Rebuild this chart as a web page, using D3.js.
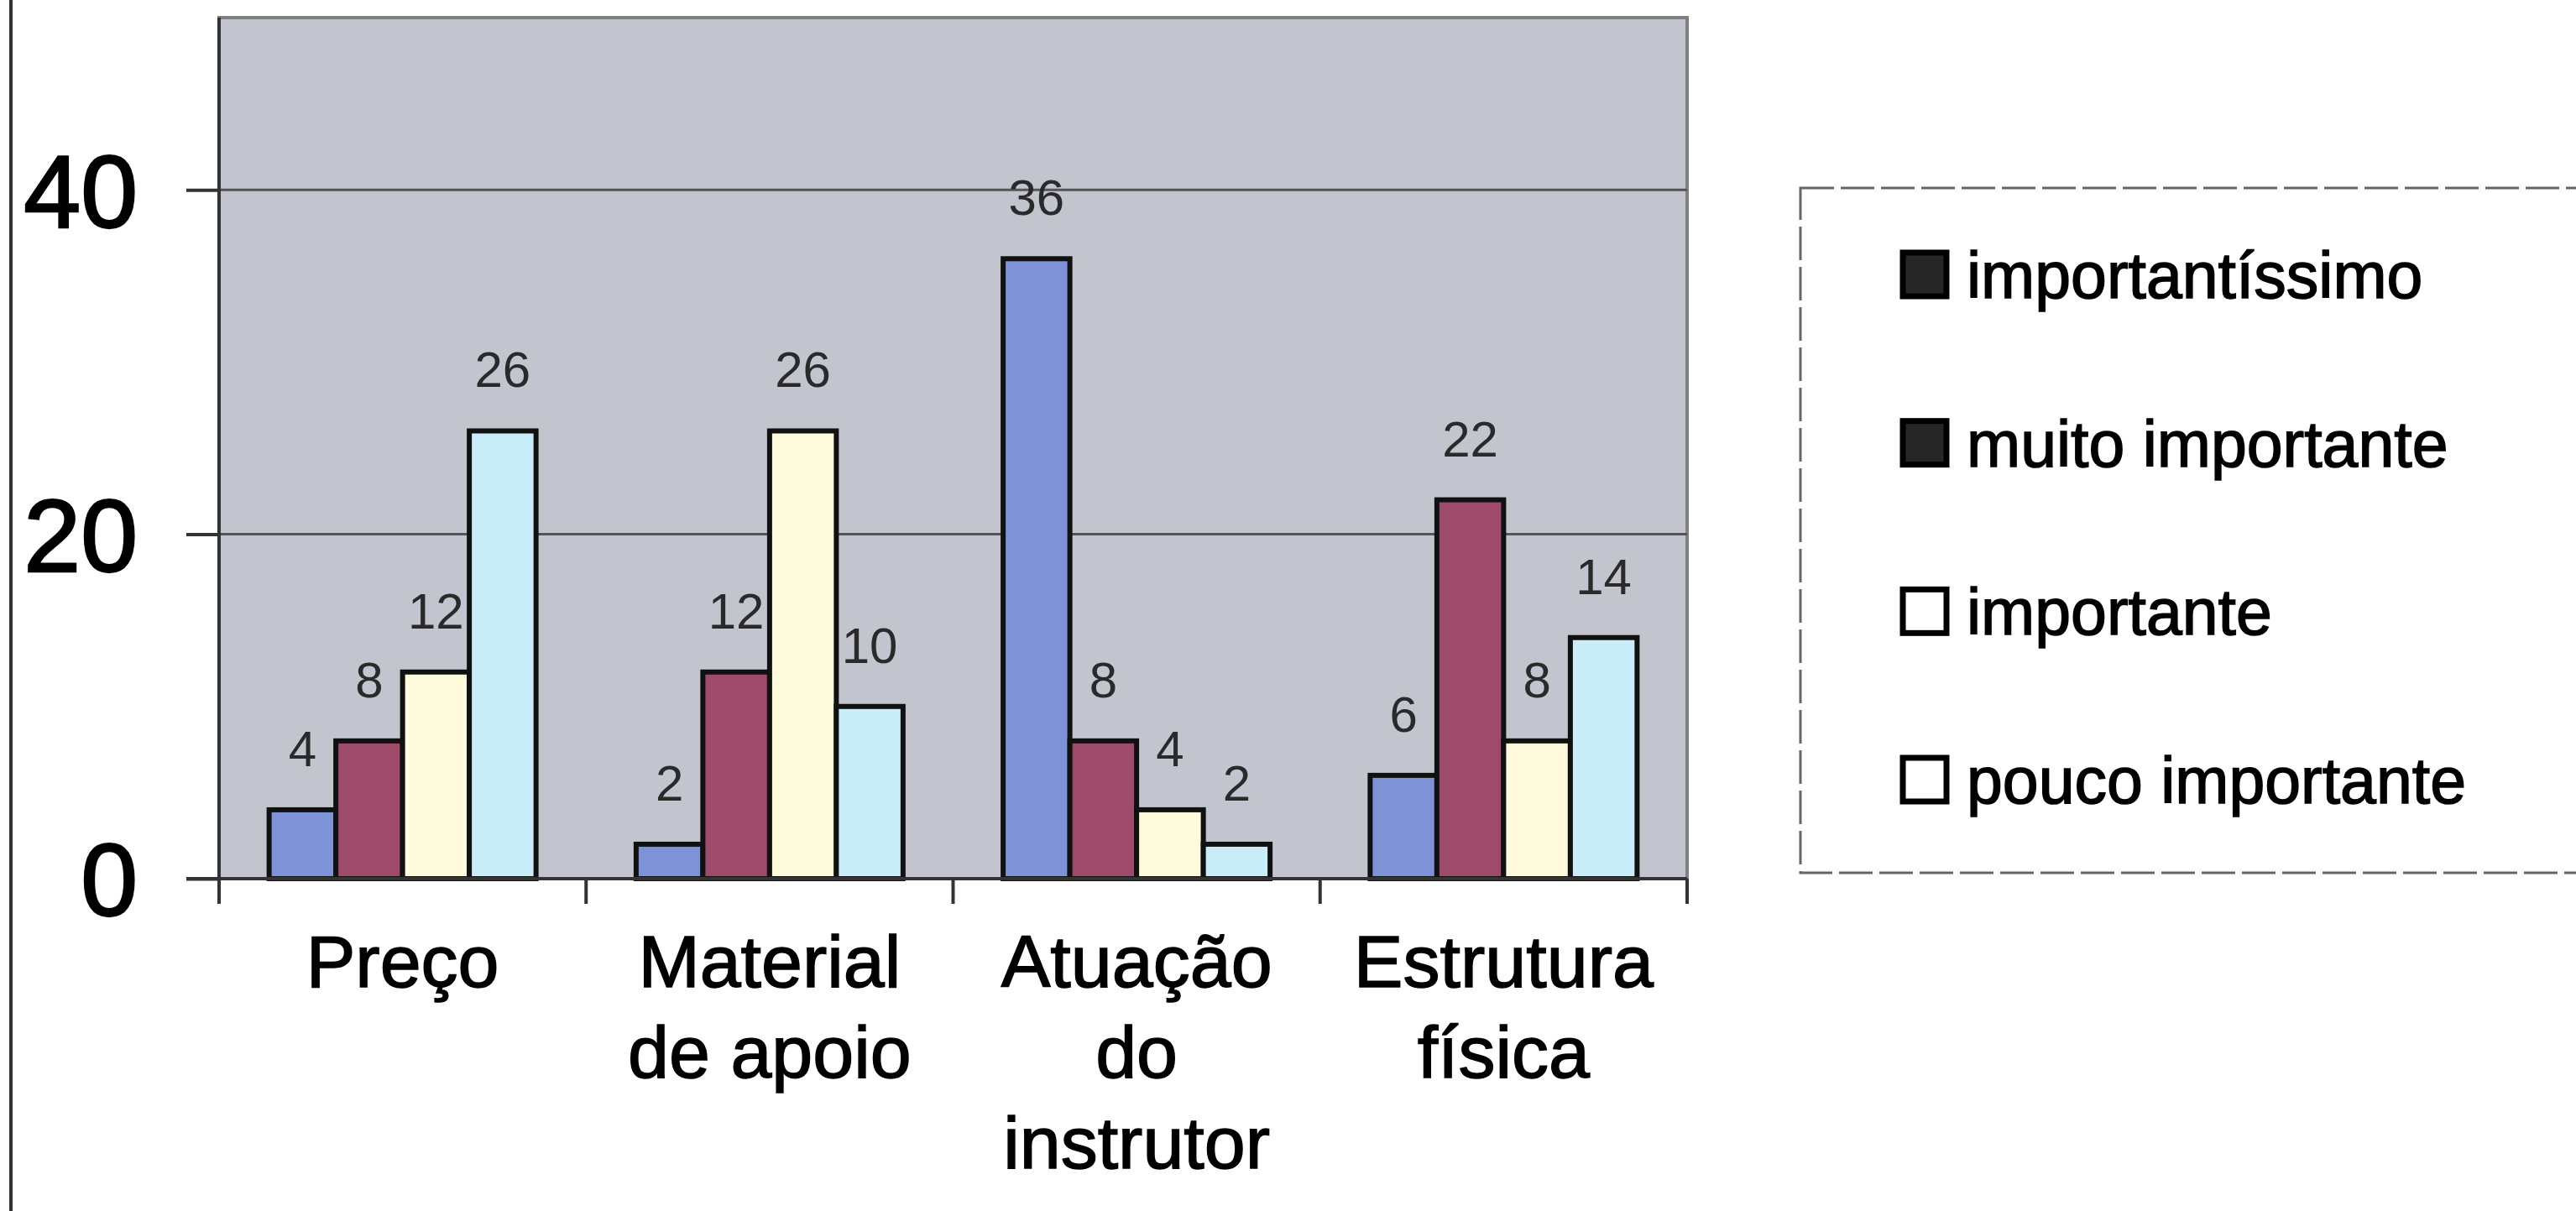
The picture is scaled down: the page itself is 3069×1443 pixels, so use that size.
<!DOCTYPE html>
<html>
<head>
<meta charset="utf-8">
<script src="https://cdn.jsdelivr.net/npm/d3@7"></script>
<style>
  html, body { margin: 0; padding: 0; background: #fff; }
  svg { display: block; font-family: "Liberation Sans", Arial, sans-serif; }
</style>
</head>
<body>
<div id="chart"></div>
<script>
// Data
const categories = ["Preço", "Material de apoio", "Atuação do instrutor", "Estrutura física"];
const categoryLines = [["Preço"], ["Material", "de apoio"], ["Atuação", "do", "instrutor"], ["Estrutura", "física"]];
const seriesNames = ["importantíssimo", "muito importante", "importante", "pouco importante"];
const importantissimo = [4, 2, 36, 6];
const muitoImportante = [8, 12, 8, 22];
const importante = [12, 26, 4, 8];
const poucoImportante = [26, 10, 2, 14];
const yTicks = [0, 20, 40];

const seriesValues = [importantissimo, muitoImportante, importante, poucoImportante];
const barColors = ["#7e92d8", "#9e4a6a", "#fdfbdc", "#c8ecf8"];
const legendFills = ["#262626", "#262626", "#ffffff", "#ffffff"];

const W = 3069, H = 1443;
const plot = { left: 261, right: 2010, top: 21, bottom: 1047 };

const svg = d3.select("#chart")
    .append("svg")
    .attr("width", W)
    .attr("height", H);

// Scales
const x0 = d3.scaleBand()
    .domain(categories)
    .range([plot.left, plot.right])
    .paddingInner(0)
    .paddingOuter(0);

const x1 = d3.scaleBand()
    .domain(seriesNames)
    .range([0, x0.bandwidth()])
    .paddingInner(0)
    .paddingOuter(0.75);

const y = d3.scaleLinear()
    .domain([0, 50])
    .range([plot.bottom, plot.top]);

// Left frame line of the chart area
svg.append("line")
    .attr("x1", 13).attr("x2", 13)
    .attr("y1", 0).attr("y2", H)
    .attr("stroke", "#333")
    .attr("stroke-width", 4);

// Plot area background
svg.append("rect")
    .attr("x", plot.left)
    .attr("y", plot.top)
    .attr("width", plot.right - plot.left)
    .attr("height", plot.bottom - plot.top)
    .attr("fill", "#c2c5ce")
    .attr("stroke", "#808080")
    .attr("stroke-width", 4);

// Gridlines
svg.append("g")
    .selectAll("line")
    .data(yTicks.filter(d => d > 0))
    .join("line")
    .attr("x1", plot.left)
    .attr("x2", plot.right)
    .attr("y1", d => y(d))
    .attr("y2", d => y(d))
    .attr("stroke", "#555")
    .attr("stroke-width", 3);

// Y axis
const yAxis = svg.append("g")
    .attr("transform", `translate(${plot.left},0)`)
    .call(d3.axisLeft(y).tickValues(yTicks).tickSize(39).tickPadding(58).tickFormat(d3.format("d")));
yAxis.select(".domain")
    .attr("stroke", "#333")
    .attr("stroke-width", 4)
    .attr("d", `M0,${plot.top}V${plot.bottom}`);
yAxis.selectAll(".tick line").attr("stroke", "#333").attr("stroke-width", 4);
yAxis.selectAll(".tick text")
    .attr("font-size", 122)
    .attr("font-family", "Liberation Sans, Arial, sans-serif")
    .attr("fill", "#000")
    .attr("stroke", "#000")
    .attr("stroke-width", 2.5)
    .attr("dy", "0.36em");

// Data labels (drawn before bars, as in the original where bars cover them)
const labelData = [];
seriesValues.forEach((vals, si) => {
    vals.forEach((v, ci) => labelData.push({ s: seriesNames[si], c: categories[ci], v: v }));
});

svg.append("g")
    .selectAll("text")
    .data(labelData)
    .join("text")
    .attr("x", d => x0(d.c) + x1(d.s) + x1.bandwidth() / 2)
    .attr("y", d => y(d.v) - 52)
    .attr("text-anchor", "middle")
    .attr("font-size", 60)
    .attr("fill", "#2a2a2a")
    .text(d => d.v);

// Bars
svg.append("g")
    .selectAll("g")
    .data(seriesValues)
    .join("g")
    .attr("fill", (d, i) => barColors[i])
    .each(function (vals, si) {
        d3.select(this).selectAll("rect")
            .data(vals)
            .join("rect")
            .attr("x", (v, ci) => x0(categories[ci]) + x1(seriesNames[si]))
            .attr("y", v => y(v))
            .attr("width", x1.bandwidth())
            .attr("height", v => y(0) - y(v))
            .attr("stroke", "#111")
            .attr("stroke-width", 6);
    });

// X axis line and ticks at category boundaries
svg.append("line")
    .attr("x1", plot.left - 39)
    .attr("x2", plot.right)
    .attr("y1", plot.bottom)
    .attr("y2", plot.bottom)
    .attr("stroke", "#333")
    .attr("stroke-width", 4);

const boundaries = categories.map(c => x0(c)).concat([plot.right]);
svg.append("g")
    .selectAll("line")
    .data(boundaries)
    .join("line")
    .attr("x1", d => d)
    .attr("x2", d => d)
    .attr("y1", plot.bottom)
    .attr("y2", plot.bottom + 30)
    .attr("stroke", "#333")
    .attr("stroke-width", 4);

// Category labels (multi-line)
const catLabels = svg.append("g")
    .selectAll("text")
    .data(categories)
    .join("text")
    .attr("x", d => x0(d) + x0.bandwidth() / 2)
    .attr("y", 1176)
    .attr("text-anchor", "middle")
    .attr("font-size", 88)
    .attr("fill", "#000")
    .attr("stroke", "#000")
    .attr("stroke-width", 1.5);

catLabels.each(function (d, i) {
    d3.select(this).selectAll("tspan")
        .data(categoryLines[i])
        .join("tspan")
        .attr("x", x0(d) + x0.bandwidth() / 2)
        .attr("dy", (t, j) => j === 0 ? 0 : 108)
        .text(t => t);
});

// Legend
const legend = { left: 2145, top: 224, bottom: 1040, right: 3100 };
svg.append("rect")
    .attr("x", legend.left)
    .attr("y", legend.top)
    .attr("width", legend.right - legend.left)
    .attr("height", legend.bottom - legend.top)
    .attr("fill", "#fff")
    .attr("stroke", "#666")
    .attr("stroke-width", 3)
    .attr("stroke-dasharray", "40,8");

const legendY = d3.scalePoint()
    .domain(seriesNames)
    .range([328, 930]);

const items = svg.append("g")
    .selectAll("g")
    .data(seriesNames)
    .join("g")
    .attr("transform", d => `translate(0,${legendY(d)})`);

items.append("rect")
    .attr("x", 2267)
    .attr("y", -27)
    .attr("width", 52)
    .attr("height", 52)
    .attr("fill", (d, i) => legendFills[i])
    .attr("stroke", "#000")
    .attr("stroke-width", 7);

items.append("text")
    .attr("x", 2343)
    .attr("y", 27)
    .attr("font-size", 77)
    .attr("fill", "#000")
    .attr("stroke", "#000")
    .attr("stroke-width", 1.5)
    .text(d => d);
</script>
</body>
</html>
